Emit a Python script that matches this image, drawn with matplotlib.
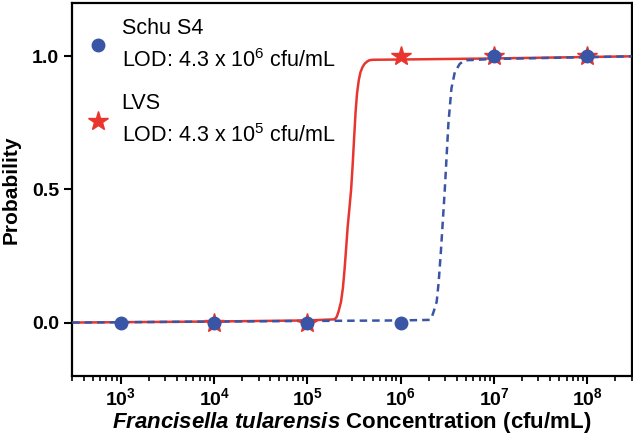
import numpy as np
import matplotlib
matplotlib.use('Agg')
import matplotlib.pyplot as plt
from matplotlib.ticker import LogLocator, NullFormatter, FixedLocator, FixedFormatter

plt.rcParams['font.family'] = ['Liberation Sans', 'DejaVu Sans']
plt.rcParams['mathtext.fontset'] = 'custom'
plt.rcParams['mathtext.rm'] = 'Liberation Sans'
plt.rcParams['mathtext.it'] = 'Liberation Sans:italic'
plt.rcParams['mathtext.bf'] = 'Liberation Sans:bold'
plt.rcParams['mathtext.bfit'] = 'Liberation Sans:italic:bold'

# measured points
conc = [1e3, 1e4, 1e5, 1e6, 1e7, 1e8]
schu_prob = [0, 0, 0, 0, 1, 1]
lvs_conc = [1e4, 1e5, 1e6, 1e7, 1e8]
lvs_prob = [0, 0, 1, 1, 1]

# fitted curves
lvs_fit_x = [3e2, 1e4, 1e5, 1.95e5, 2.05e5, 2.15e5, 2.29e5, 2.4e5, 2.5e5, 2.6e5,
             2.7e5, 2.82e5, 2.94e5, 3.05e5, 3.15e5, 3.28e5, 3.4e5, 3.55e5,
             3.7e5, 3.9e5, 4.1e5, 4.35e5, 4.6e5, 5e5, 1e6, 1e7, 3e8]
lvs_fit_y = [0.0, 0.004, 0.008, 0.012, 0.02, 0.04, 0.078, 0.13, 0.2, 0.28,
             0.36, 0.43, 0.5, 0.59, 0.68, 0.79, 0.86, 0.91,
             0.94, 0.96, 0.972, 0.98, 0.985, 0.987, 0.988, 0.992, 1.0]
schu_fit_x = [3e2, 1e5, 1e6, 2.05e6, 2.15e6, 2.25e6, 2.43e6, 2.55e6, 2.7e6,
              2.85e6, 2.97e6, 3.1e6, 3.25e6, 3.5e6, 3.8e6, 4.3e6, 4.9e6, 1e7, 3e8]
schu_fit_y = [0.0, 0.006, 0.008, 0.01, 0.02, 0.04, 0.078, 0.15, 0.27,
              0.4, 0.5, 0.62, 0.75, 0.88, 0.94, 0.972, 0.985, 0.99, 1.0]

blue = '#3a55a6'
red = '#e8362f'

fig = plt.figure(figsize=(6.33, 4.38), dpi=100)
ax = fig.add_axes([0.114, 0.142, 0.884, 0.851])

ax.plot(lvs_fit_x, lvs_fit_y, color=red, lw=1.8, zorder=2)
ax.plot(schu_fit_x, schu_fit_y, color=blue, lw=1.8, ls=(0, (3, 2)), zorder=3)
ax.plot(lvs_conc, lvs_prob, ls='none', marker='*', ms=15, color=red, mec=red,
        zorder=4, label='LVS\nLOD: 4.3 x 10$^5$ cfu/mL')
ax.plot(conc, schu_prob, ls='none', marker='o', ms=9, color=blue, mec=blue,
        zorder=5, label='Schu S4\nLOD: 4.3 x 10$^6$ cfu/mL')

ax.set_xscale('log')
ax.set_xlim(3e2, 3e8)
ax.set_ylim(-0.2, 1.2)

ax.xaxis.set_major_locator(FixedLocator(conc))
ax.xaxis.set_major_formatter(FixedFormatter([r'$\mathbf{10^{%d}}$' % i for i in range(3, 9)]))
ax.xaxis.set_minor_locator(LogLocator(base=10, subs=np.arange(2, 10), numticks=20))
ax.xaxis.set_minor_formatter(NullFormatter())
ax.set_yticks([0, 0.5, 1.0])
ax.set_yticklabels(['0.0', '0.5', '1.0'], fontweight='bold')

ax.tick_params(axis='both', which='major', direction='out', length=6, width=1.5,
               labelsize=14)
ax.tick_params(axis='x', which='major', pad=2)
ax.tick_params(axis='x', which='minor', direction='out', length=3.5, width=1.2)
for sp in ax.spines.values():
    sp.set_linewidth(1.6)

ax.set_ylabel('Probability', fontsize=15, fontweight='bold', labelpad=8)
ax.set_xlabel(r'$\mathbfit{Francisella\ tularensis}$ Concentration (cfu/mL)',
              fontsize=16, fontweight='bold', labelpad=1)

handles, labels = ax.get_legend_handles_labels()
leg = ax.legend(handles[::-1], labels[::-1], loc='upper left', frameon=False,
                fontsize=15.5, handlelength=1.0, handletextpad=0.6,
                labelspacing=1.0, borderaxespad=0.3, bbox_to_anchor=(0.0, 1.0))
for t in leg.get_texts():
    t.set_linespacing(1.55)

fig.savefig('out.png', dpi=100)
